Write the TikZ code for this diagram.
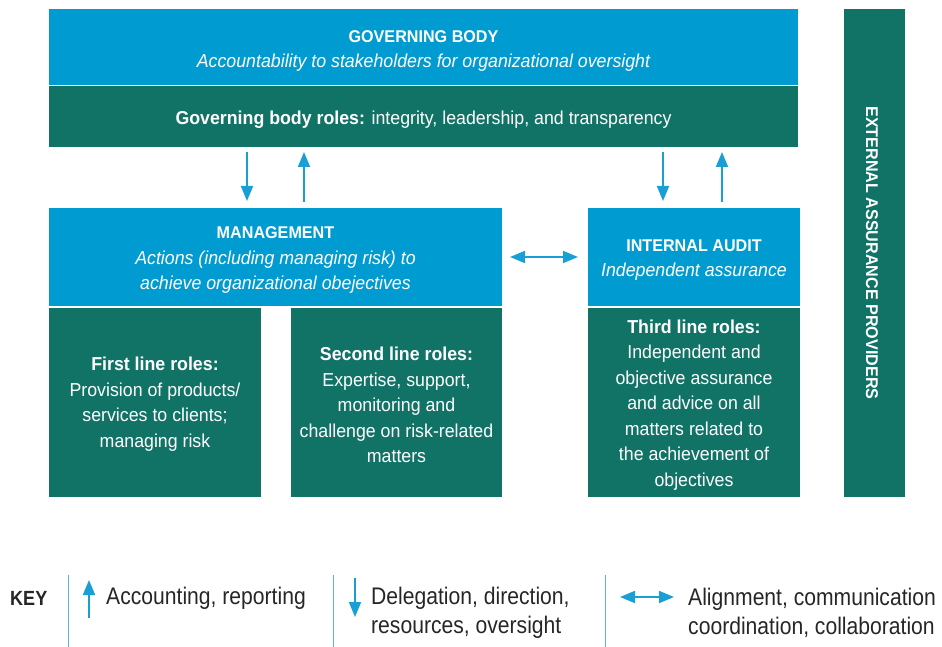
\documentclass[tikz,border=0pt]{standalone}
\usepackage{fontspec}
\setmainfont{Liberation Sans}[FakeStretch=0.95]
\newfontfamily\keyfont{Liberation Sans}[FakeStretch=0.88]
\usetikzlibrary{arrows.meta}
\definecolor{iiablue}{RGB}{0,155,208}
\definecolor{iiagreen}{RGB}{17,115,102}
\definecolor{flowblue}{RGB}{26,159,212}
\definecolor{rulegray}{RGB}{90,180,215}
\newcommand{\captitle}[1]{{\fontsize{17}{25.5}\selectfont\bfseries #1}}
\tikzset{
  panel/.style={anchor=north west, inner sep=0pt, outer sep=0pt, draw=none},
  bluepanel/.style={panel, fill=iiablue},
  greenpanel/.style={panel, fill=iiagreen},
  paneltext/.style={text=white, align=center, font=\fontsize{18.7}{25.5}\selectfont, inner sep=0pt},
  flow/.style={draw=flowblue, line width=1.8pt, -{Triangle[width=12pt,length=15pt]}},
  flowboth/.style={draw=flowblue, line width=1.8pt, {Triangle[width=12pt,length=15pt]}-{Triangle[width=12pt,length=15pt]}},
  keytext/.style={anchor=west, align=left, font=\keyfont\fontsize{24}{29}\selectfont, inner sep=0pt, text=black!85},
  keyrule/.style={draw=rulegray, line width=1pt}
}
\begin{document}
\begin{tikzpicture}[x=1pt,y=-1pt]
  \useasboundingbox (0,0) rectangle (942,647);

  % governing body
  \node[bluepanel, minimum width=749pt, minimum height=76pt] (gb) at (49,9) {};
  \node[greenpanel, minimum width=749pt, minimum height=61pt] (gbr) at (49,86) {};
  \node[paneltext] (gbtitle) at (423.5,37) {\captitle{GOVERNING BODY}};
  \node[paneltext] (gbsub) at (423.5,63) {\itshape Accountability to stakeholders for organizational oversight};
  \node[paneltext] (gbroles) at (423.5,120) {\textbf{Governing body roles:} integrity, leadership, and transparency};

  % external assurance providers
  \node[greenpanel, minimum width=61pt, minimum height=488pt] (ext) at (844,9) {};
  \node[paneltext, rotate=-90] (exttext) at (872,253) {\captitle{EXTERNAL ASSURANCE PROVIDERS}};

  % management
  \node[bluepanel, minimum width=453pt, minimum height=98pt] (mgmt) at (49,208) {};
  \node[paneltext] (mgmttext) at (275.5,260.5) {\captitle{MANAGEMENT}\\\itshape Actions (including managing risk) to\\\itshape achieve organizational obejectives};

  % first and second line
  \node[greenpanel, minimum width=212pt, minimum height=189pt] (first) at (49,308) {};
  \node[paneltext] (firsttext) at (155,404) {\textbf{First line roles:}\\Provision of products/\\services to clients;\\managing risk};
  \node[greenpanel, minimum width=211pt, minimum height=189pt] (second) at (291,308) {};
  \node[paneltext] (secondtext) at (396.5,405) {\textbf{Second line roles:}\\Expertise, support,\\monitoring and\\challenge on risk-related\\matters};

  % internal audit and third line
  \node[bluepanel, minimum width=212pt, minimum height=98pt] (ia) at (588,208) {};
  \node[paneltext] (iatext) at (694,260) {\captitle{INTERNAL AUDIT}\\\itshape Independent assurance};
  \node[greenpanel, minimum width=212pt, minimum height=189pt] (third) at (588,308) {};
  \node[paneltext] (thirdtext) at (694,405) {\textbf{Third line roles:}\\Independent and\\objective assurance\\and advice on all\\matters related to\\the achievement of\\objectives};

  % connectors between panels
  \coordinate (d1s) at (247,152); \coordinate (d1e) at (247,201);
  \coordinate (u1s) at (304,202); \coordinate (u1e) at (304,152);
  \coordinate (d2s) at (663,152); \coordinate (d2e) at (663,201);
  \coordinate (u2s) at (722,202); \coordinate (u2e) at (722,152);
  \coordinate (lr1) at (510,257); \coordinate (lr2) at (578,257);
  \draw[flow] (d1s) -- (d1e);
  \draw[flow] (u1s) -- (u1e);
  \draw[flow] (d2s) -- (d2e);
  \draw[flow] (u2s) -- (u2e);
  \draw[flowboth] (lr1) -- (lr2);

  % key
  \node[anchor=west, inner sep=0pt, font=\keyfont\fontsize{20.5}{29}\selectfont\bfseries, text=black!85] (key) at (10,598) {KEY};
  \coordinate (r1a) at (68,575); \coordinate (r1b) at (68,647);
  \coordinate (r2a) at (333,575); \coordinate (r2b) at (333,647);
  \coordinate (r3a) at (605,575); \coordinate (r3b) at (605,647);
  \draw[keyrule] (r1a) -- (r1b);
  \draw[keyrule] (r2a) -- (r2b);
  \draw[keyrule] (r3a) -- (r3b);

  \coordinate (ku1) at (89,618); \coordinate (ku2) at (89,580);
  \draw[flow] (ku1) -- (ku2);
  \node[keytext] (k1) at (106,598.5) {Accounting, reporting};

  \coordinate (kd1) at (355,578); \coordinate (kd2) at (355,617);
  \draw[flow] (kd1) -- (kd2);
  \node[keytext] (k2) at (371,613) {Delegation, direction,\\resources, oversight};

  \coordinate (kb1) at (620,597); \coordinate (kb2) at (674,597);
  \draw[flowboth] (kb1) -- (kb2);
  \node[keytext] (k3) at (688,613) {Alignment, communication\\coordination, collaboration};
\end{tikzpicture}
\end{document}
